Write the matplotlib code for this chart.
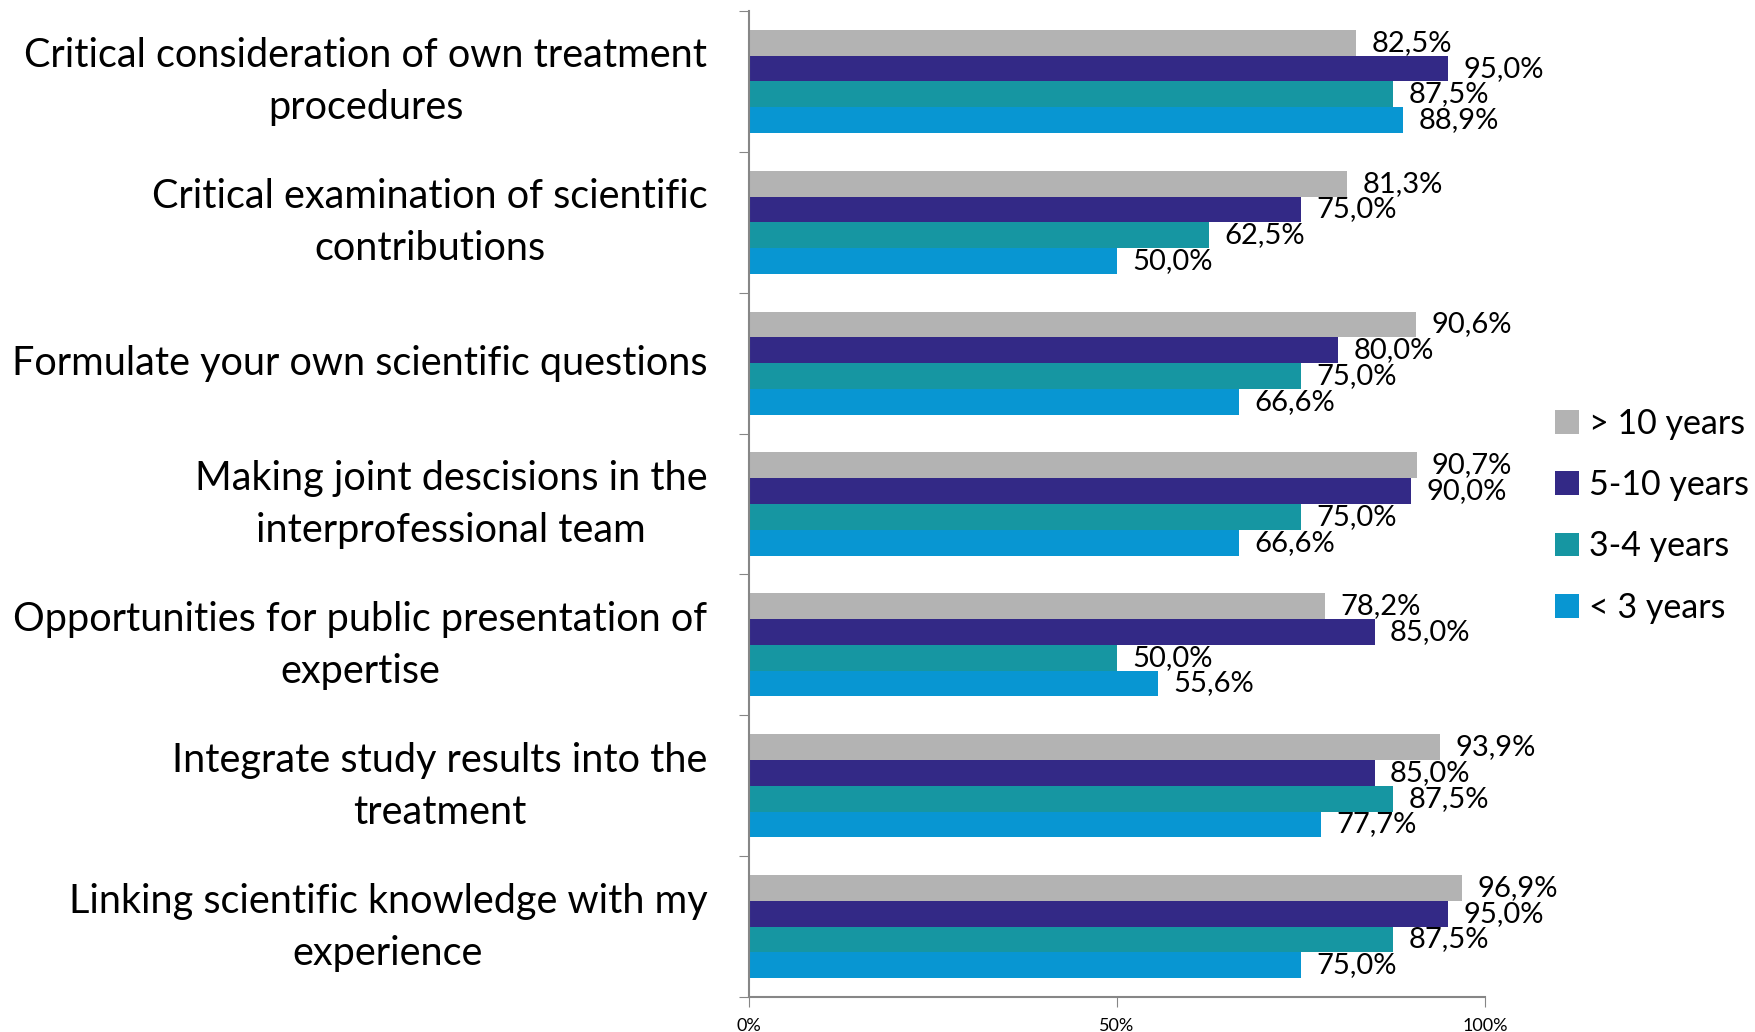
import numpy as np
import matplotlib.pyplot as plt
from matplotlib import font_manager

# categories, top to bottom as in the chart
categories = [
    "Critical consideration of own treatment\nprocedures",
    "Critical examination of scientific\ncontributions",
    "Formulate your own scientific questions",
    "Making joint descisions in the\ninterprofessional team",
    "Opportunities for public presentation of\nexpertise",
    "Integrate study results into the\ntreatment",
    "Linking scientific knowledge with my\nexperience",
]

series_names = ["> 10 years", "5-10 years", "3-4 years", "< 3 years"]
over_10 = [82.5, 81.3, 90.6, 90.7, 78.2, 93.9, 96.9]
y5_10 = [95.0, 75.0, 80.0, 90.0, 85.0, 85.0, 95.0]
y3_4 = [87.5, 62.5, 75.0, 75.0, 50.0, 87.5, 87.5]
under_3 = [88.9, 50.0, 66.6, 66.6, 55.6, 77.7, 75.0]
series = [over_10, y5_10, y3_4, under_3]
colors = ["#B3B3B3", "#332986", "#1696A2", "#0896D2"]

x_ticks = [0, 50, 100]
x_ticklabels = ["0%", "50%", "100%"]

available = {f.name for f in font_manager.fontManager.ttflist}
main_font = "Lato" if "Lato" in available else "DejaVu Sans"
narrow_font = "Liberation Sans Narrow" if "Liberation Sans Narrow" in available else main_font

fig = plt.figure(figsize=(17.55, 10.32), dpi=100)
ax = fig.add_axes([0.4268, 0.0339, 0.4194, 0.9554])

n_cat = len(categories)
bar_h = 0.183
centers = np.arange(n_cat) + 0.5
for i, (vals, col, name) in enumerate(zip(series, colors, series_names)):
    ypos = centers + (i - 1.5) * bar_h
    ax.barh(ypos, vals, height=bar_h, color=col, label=name, edgecolor="none")
    for y, v in zip(ypos, vals):
        ax.annotate(f"{v:.1f}%".replace(".", ","), (v, y), xytext=(11, 0),
                    textcoords="offset points", va="center", ha="left",
                    fontsize=21, family=narrow_font, color="black")

ax.set_xlim(0, 100)
ax.set_ylim(n_cat, 0)

ax.set_xticks(x_ticks)
ax.set_xticklabels(x_ticklabels, family=narrow_font, fontsize=13)
ax.tick_params(axis="x", direction="out", length=7, color="#868686", pad=8)

# category names sit a touch above the band centre (more for two-line ones)
label_pos = [c - (0.075 if "\n" in name else 0.02) for c, name in zip(centers, categories)]
ax.set_yticks(np.arange(n_cat + 1))
ax.set_yticklabels([])
ax.set_yticks(label_pos, minor=True)
ax.set_yticklabels(categories, minor=True, fontsize=28.5, family=main_font,
                   ha="right", multialignment="center", linespacing=1.5)
ax.tick_params(axis="y", which="major", direction="out", length=7, color="#868686")
ax.tick_params(axis="y", which="minor", length=0, pad=30)

for side in ["top", "right"]:
    ax.spines[side].set_visible(False)
for side in ["left", "bottom"]:
    ax.spines[side].set_color("#868686")
    ax.spines[side].set_linewidth(1.5)

leg = ax.legend(loc="center left", bbox_to_anchor=(1.095, 0.488), frameon=False,
                prop={"family": main_font, "size": 24.5}, handlelength=0.7,
                handleheight=0.7, handletextpad=0.3, labelspacing=0.86,
                borderpad=0, borderaxespad=0)

fig.savefig("out.png", dpi=100)
